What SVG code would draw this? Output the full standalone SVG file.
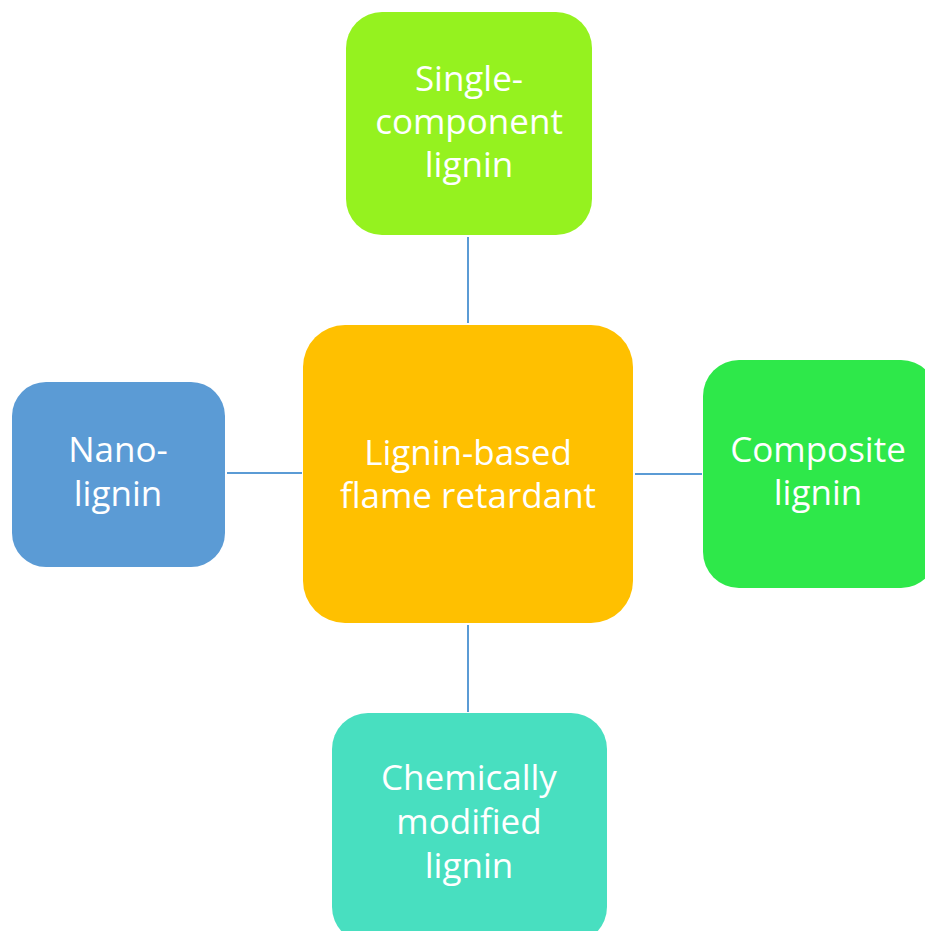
<svg xmlns="http://www.w3.org/2000/svg" width="925" height="931" viewBox="0 0 925 931">
<style>
.lbl{font-family:"Open Sans","Liberation Sans",sans-serif;font-size:35px;fill:#ffffff;text-anchor:middle}
.con{stroke:#5b9bd5;stroke-width:2;fill:none}
</style>
<rect width="925" height="931" fill="#ffffff"/>
<g id="connectors">
<line class="con" x1="468" y1="237" x2="468" y2="323"/>
<line class="con" x1="227" y1="473" x2="302" y2="473"/>
<line class="con" x1="635" y1="474" x2="702" y2="474"/>
<line class="con" x1="468" y1="625" x2="468" y2="712"/>
</g>
<g id="center">
<rect x="303" y="325" width="330" height="298" rx="42" fill="#ffc000"/>
<text class="lbl" x="468" y="465">Lignin-based</text>
<text class="lbl" x="468" y="508">flame retardant</text>
</g>
<g id="top">
<rect x="346" y="12" width="246" height="223" rx="36" fill="#95f21f"/>
<text class="lbl" x="469" y="91">Single-</text>
<text class="lbl" x="469" y="134">component</text>
<text class="lbl" x="469" y="177">lignin</text>
</g>
<g id="left">
<rect x="12" y="382" width="213" height="185" rx="34" fill="#5b9bd5"/>
<text class="lbl" x="118" y="462">Nano-</text>
<text class="lbl" x="118" y="506">lignin</text>
</g>
<g id="right">
<rect x="703" y="360" width="234" height="228" rx="36" fill="#2ee84a"/>
<text class="lbl" x="818" y="462">Composite</text>
<text class="lbl" x="818" y="505">lignin</text>
</g>
<g id="bottom">
<rect x="332" y="713" width="275" height="230" rx="36" fill="#48dfc0"/>
<text class="lbl" x="469" y="790">Chemically</text>
<text class="lbl" x="469" y="834">modified</text>
<text class="lbl" x="469" y="878">lignin</text>
</g>
</svg>
